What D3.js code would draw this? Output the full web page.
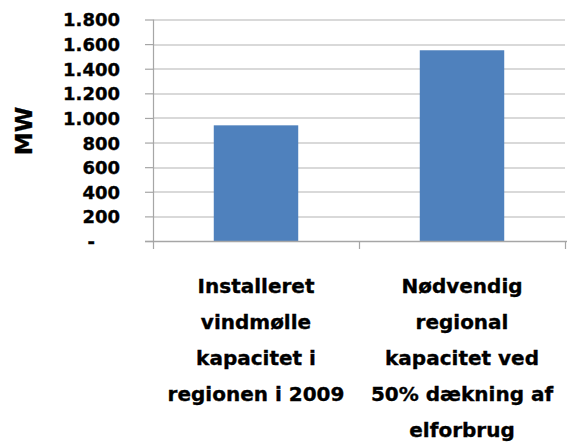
<!DOCTYPE html>
<html>
<head>
<meta charset="utf-8">
<script src="https://cdn.jsdelivr.net/npm/d3@7"></script>
<style>
  body { margin: 0; background: #fff; }
  text { font-family: "DejaVu Sans", sans-serif; font-weight: bold; fill: #000; stroke: #000; stroke-width: 0.35px; }
</style>
</head>
<body>
<div id="chart"></div>
<script>
// data
var categories = [
    ["Installeret", "vindmølle", "kapacitet i", "regionen i 2009"],
    ["Nødvendig", "regional", "kapacitet ved", "50% dækning af", "elforbrug"]
];
var values = [940, 1550];
var yTicks = [0, 200, 400, 600, 800, 1000, 1200, 1400, 1600, 1800];
var yLabel = "MW";

var svgWidth = 576, svgHeight = 442;
var margin = { top: 19.5, right: 11, bottom: 201, left: 153 };
var w = svgWidth - margin.left - margin.right;
var h = svgHeight - margin.top - margin.bottom;

var svg = d3.select("#chart").append("svg")
    .attr("width", svgWidth)
    .attr("height", svgHeight);

var chart = svg.append("g")
    .attr("transform", "translate(" + margin.left + "," + margin.top + ")");

var xScale = d3.scaleBand()
    .domain(d3.range(values.length))
    .range([0, w])
    .paddingInner(0.59)
    .paddingOuter(0.295);

var yScale = d3.scaleLinear()
    .domain([0, 1800])
    .range([h, 0]);

// gridlines
chart.append("g")
    .selectAll("line")
    .data(yTicks.filter(d => d > 0))
    .enter().append("line")
    .attr("x1", 0).attr("x2", w)
    .attr("y1", d => Math.round(yScale(d)) + 0.5)
    .attr("y2", d => Math.round(yScale(d)) + 0.5)
    .attr("stroke", "#b3b3b3")
    .attr("stroke-width", 1.2);

// y axis
var yAxis = d3.axisLeft(yScale)
    .tickValues(yTicks)
    .tickSize(8)
    .tickPadding(25)
    .tickFormat(d => d === 0 ? "-" : d3.format(",")(d).replace(/,/g, "."));

var gy = chart.append("g").call(yAxis);
gy.select(".domain").remove();
gy.append("line")
    .attr("x1", 0.5).attr("x2", 0.5)
    .attr("y1", 0).attr("y2", h)
    .attr("stroke", "#a6a6a6").attr("stroke-width", 1.2);
gy.selectAll(".tick line").attr("stroke", "#a6a6a6").attr("stroke-width", 1.2);
gy.selectAll(".tick text")
    .attr("font-size", 18)
    .attr("font-family", "DejaVu Sans")
    .attr("dy", "0.36em")
    .attr("dx", d => d === 0 ? -25 : 0);

// bars
chart.selectAll(".bar")
    .data(values)
    .enter().append("rect")
    .attr("class", "bar")
    .attr("x", (d, i) => xScale(i))
    .attr("y", d => yScale(d))
    .attr("width", xScale.bandwidth())
    .attr("height", d => h - yScale(d))
    .attr("fill", "#4f81bd");

// x axis baseline and category ticks
var step = w / values.length;
chart.append("line")
    .attr("x1", -8).attr("x2", w + 2)
    .attr("y1", h + 0.5).attr("y2", h + 0.5)
    .attr("stroke", "#a6a6a6").attr("stroke-width", 1.5);
chart.selectAll(".xtick")
    .data(d3.range(values.length + 1))
    .enter().append("line")
    .attr("class", "xtick")
    .attr("x1", d => d * step + 0.5).attr("x2", d => d * step + 0.5)
    .attr("y1", h).attr("y2", h + 8)
    .attr("stroke", "#a6a6a6").attr("stroke-width", 1.2);

// category labels
var catText = chart.selectAll(".cat")
    .data(categories)
    .enter().append("text")
    .attr("class", "cat")
    .attr("text-anchor", "middle")
    .attr("font-size", 20)
    .attr("transform", (d, i) => "translate(" + (xScale(i) + xScale.bandwidth() / 2) + "," + (h + 52) + ")");
catText.selectAll("tspan")
    .data(d => d)
    .enter().append("tspan")
    .attr("x", 0)
    .attr("y", (d, i) => i * 36)
    .text(d => d);

// y label
svg.append("text")
    .attr("transform", "translate(" + 32 + "," + 131 + ") rotate(-90)")
    .attr("text-anchor", "middle")
    .attr("font-size", 23)
    .text(yLabel);
</script>
</body>
</html>
